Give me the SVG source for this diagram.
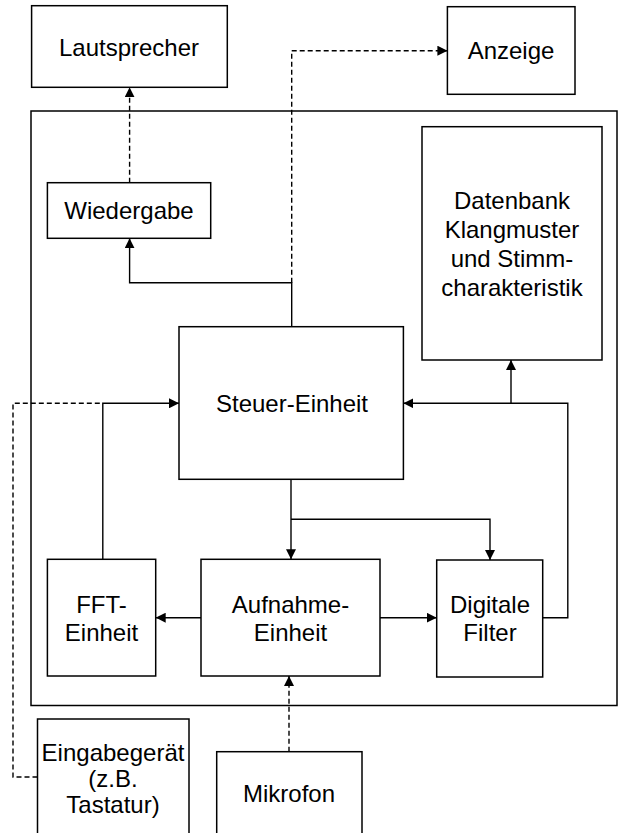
<svg xmlns="http://www.w3.org/2000/svg" width="618" height="833" viewBox="0 0 618 833">
<style>
.box{fill:none;stroke:#000;stroke-width:1.5}
.t{font-family:"Liberation Sans",Arial,sans-serif;font-size:24px;fill:#000;text-anchor:middle}
.c{fill:none;stroke:#000;stroke-width:1.4}
.d{fill:none;stroke:#000;stroke-width:1.4;stroke-dasharray:5,3}
</style>
<defs>
<marker id="ah" viewBox="0 0 10 10" refX="10" refY="5" markerWidth="10" markerHeight="10" markerUnits="userSpaceOnUse" orient="auto">
<path d="M0,0 L10,5 L0,10 z" fill="#000"/>
</marker>
</defs>
<rect width="618" height="833" fill="#fff"/>
<g id="system"><rect class="box" x="31" y="111" width="586" height="594.5"/></g>
<g id="lautsprecher"><rect class="box" x="31.6" y="5.7" width="195.7" height="81.6"/><text class="t" x="129" y="56">Lautsprecher</text></g>
<g id="anzeige"><rect class="box" x="447.4" y="6.7" width="127.6" height="87.6"/><text class="t" x="511" y="59">Anzeige</text></g>
<g id="wiedergabe"><rect class="box" x="47.4" y="182.7" width="163.3" height="55.6"/><text class="t" x="129" y="219">Wiedergabe</text></g>
<g id="datenbank"><rect class="box" x="422" y="126.7" width="180" height="233.3"/><text class="t" x="512" y="209">Datenbank</text><text class="t" x="512" y="238">Klangmuster</text><text class="t" x="512" y="267">und Stimm-</text><text class="t" x="512" y="296">charakteristik</text></g>
<g id="steuer"><rect class="box" x="179" y="326.7" width="224.4" height="152.6"/><text class="t" x="292" y="412">Steuer-Einheit</text></g>
<g id="fft"><rect class="box" x="47.4" y="559.3" width="108.3" height="116.7"/><text class="t" x="101.5" y="613">FFT-</text><text class="t" x="101.5" y="641">Einheit</text></g>
<g id="aufnahme"><rect class="box" x="201" y="559.3" width="179" height="116.7"/><text class="t" x="290.5" y="613">Aufnahme-</text><text class="t" x="290.5" y="641">Einheit</text></g>
<g id="filter"><rect class="box" x="436.7" y="560" width="106" height="117"/><text class="t" x="490" y="613">Digitale</text><text class="t" x="490" y="641">Filter</text></g>
<g id="eingabe"><rect class="box" x="37.5" y="719" width="151.5" height="130"/><text class="t" x="113" y="761">Eingabegerät</text><text class="t" x="113" y="787">(z.B.</text><text class="t" x="113" y="813">Tastatur)</text></g>
<g id="mikrofon"><rect class="box" x="216.7" y="751.7" width="145.3" height="100"/><text class="t" x="289" y="802">Mikrofon</text></g>
<g id="connectors">
<path class="d" d="M129.6,182.7 V87.3" marker-end="url(#ah)"/>
<path class="c" d="M291.7,326.7 V282.7 H129.6 V238.3" marker-end="url(#ah)"/>
<path class="d" d="M291.7,282.7 V50.7 H447.4" marker-end="url(#ah)"/>
<path class="c" d="M511,403.3 V360" marker-end="url(#ah)"/>
<path class="c" d="M542.7,617.7 H567.8 V403.3 H403.4" marker-end="url(#ah)"/>
<path class="c" d="M102.8,559.3 V403.3 H179" marker-end="url(#ah)"/>
<path class="d" d="M37.5,777 H13 V403.3 H102.8"/>
<path class="c" d="M291,479.3 V559.3" marker-end="url(#ah)"/>
<path class="c" d="M291,519.3 H490 V560" marker-end="url(#ah)"/>
<path class="c" d="M201,617.7 H155.7" marker-end="url(#ah)"/>
<path class="c" d="M380,617.7 H436.7" marker-end="url(#ah)"/>
<path class="d" d="M289,751.7 V676" marker-end="url(#ah)"/>
</g>
</svg>
